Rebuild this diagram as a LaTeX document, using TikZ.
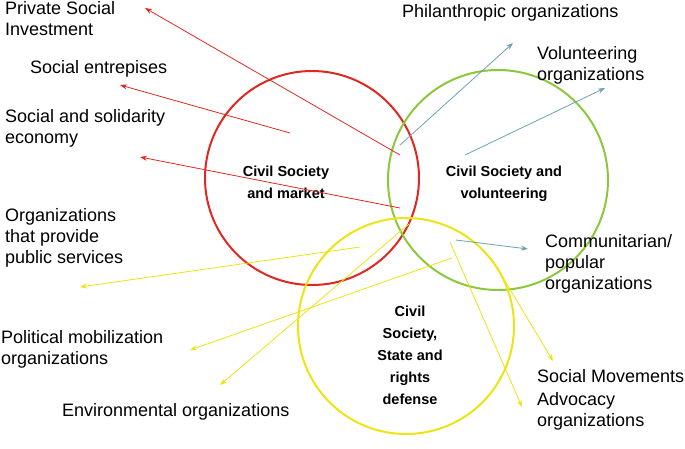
\documentclass[tikz,border=0pt]{standalone}
\usepackage{fontspec}
\setmainfont{Liberation Sans}
\usetikzlibrary{arrows.meta}
\definecolor{cred}{RGB}{224,40,34}
\definecolor{cgreen}{RGB}{140,200,60}
\definecolor{cyel}{RGB}{236,228,20}
\definecolor{cblue}{RGB}{110,160,180}
\begin{document}
\begin{tikzpicture}[x=1pt,y=-1pt,
  lbl/.style={font=\fontsize{18}{21}\selectfont,align=left,anchor=west,inner sep=0},
  ctr/.style={font=\bfseries\fontsize{14.5}{22}\selectfont,align=center,inner sep=0},
  arr/.style={-{Stealth[length=7pt,width=5pt]},line width=0.8pt}]
\useasboundingbox (0,0) rectangle (685,448);
\draw[cred,line width=2pt] (312,178) circle[radius=107];
\draw[cgreen,line width=2pt] (498,180) circle[radius=110];
\draw[cyel,line width=2pt] (406,326) circle[radius=108];
\node[ctr] (c1) at (286,182) {Civil Society\\and market};
\node[ctr] (c2) at (504,184) {Civil Society and\\volunteering};
\node[ctr] (c3) at (410,355) {Civil\\Society,\\State and\\rights\\defense};
\node[lbl] (l1) at (5,19) {Private Social\\Investment};
\node[lbl] (l2) at (30,69) {Social entrepises};
\node[lbl] (l3) at (5,128) {Social and solidarity\\economy};
\node[lbl] (l4) at (5,238) {Organizations\\that provide\\public services};
\node[lbl] (l5) at (1,349) {Political mobilization\\organizations};
\node[lbl] (l6) at (62,412) {Environmental organizations};
\node[lbl] (r1) at (402,13) {Philanthropic organizations};
\node[lbl] (r2) at (537,65) {Volunteering\\organizations};
\node[lbl] (r3) at (545,264) {Communitarian/\\popular\\organizations};
\node[lbl] (r4) at (537,376) {Social Movements};
\node[lbl] (r5) at (537,411) {Advocacy\\organizations};
\coordinate (a1) at (400,155); \coordinate (b1) at (145,8);
\coordinate (a2) at (290,133); \coordinate (b2) at (120,85);
\coordinate (a3) at (400,208); \coordinate (b3) at (140,157);
\draw[arr,cred] (a1) -- (b1);
\draw[arr,cred] (a2) -- (b2);
\draw[arr,cred] (a3) -- (b3);
\coordinate (a4) at (400,145); \coordinate (b4) at (513,43);
\coordinate (a5) at (465,155); \coordinate (b5) at (605,88);
\coordinate (a6) at (456,240); \coordinate (b6) at (528,249);
\draw[arr,cblue] (a4) -- (b4);
\draw[arr,cblue] (a5) -- (b5);
\draw[arr,cblue] (a6) -- (b6);
\coordinate (a7) at (360,247); \coordinate (b7) at (80,287);
\coordinate (a8) at (452,258); \coordinate (b8) at (190,350);
\coordinate (a9) at (409,224); \coordinate (b9) at (220,385);
\coordinate (a10) at (450,242); \coordinate (b10) at (522,407);
\coordinate (a11) at (493,261); \coordinate (b11) at (553,361);
\foreach \i in {7,...,11} \draw[arr,cyel] (a\i) -- (b\i);
\end{tikzpicture}
\end{document}
